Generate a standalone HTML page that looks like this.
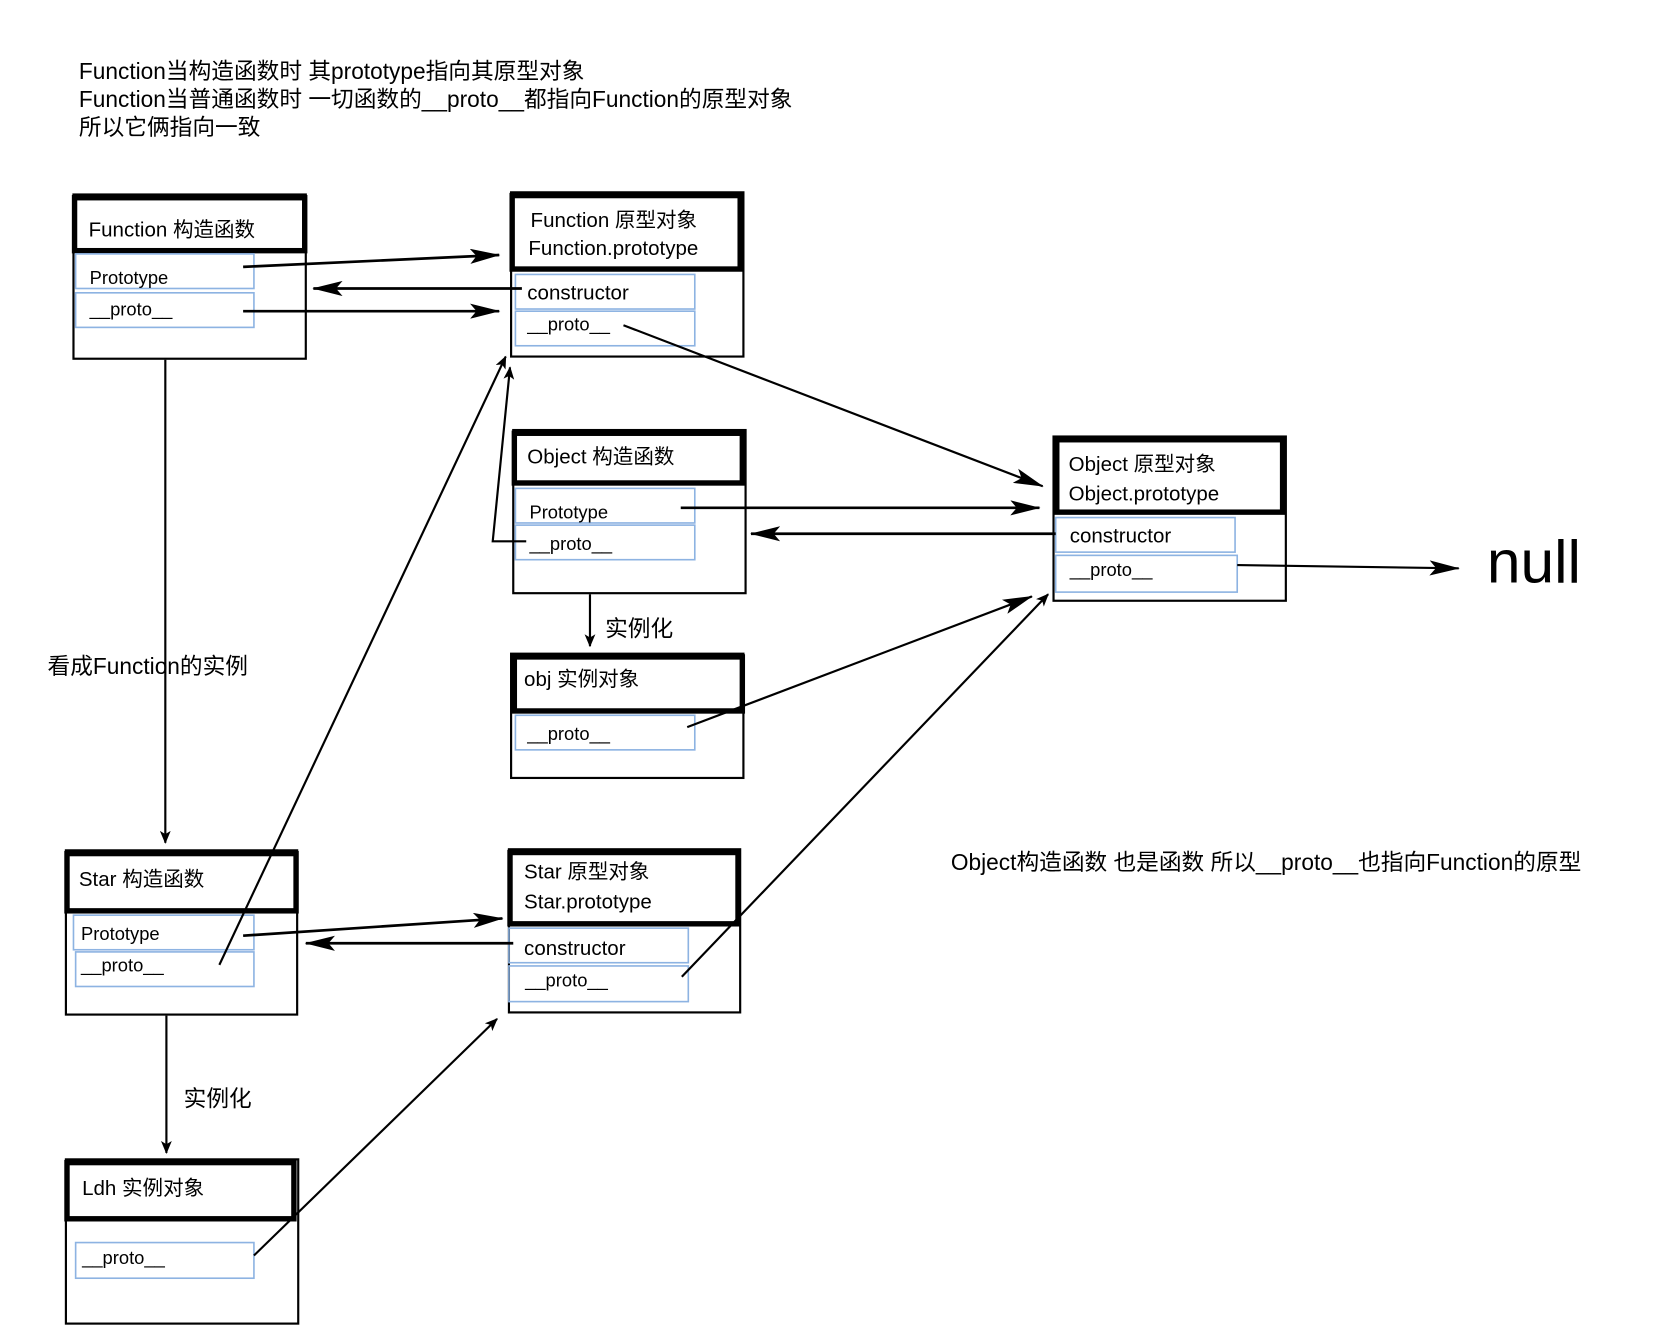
<!DOCTYPE html>
<html><head><meta charset="utf-8"><style>
html,body{margin:0;padding:0;background:#fff;}
svg{display:block;}
text{font-family:"Liberation Sans","Noto Sans CJK SC",sans-serif;fill:#000;}
</style></head><body>
<svg width="1677" height="1329" viewBox="0 0 1552 1230" preserveAspectRatio="none" xmlns="http://www.w3.org/2000/svg">
<defs>
<marker id="a" markerWidth="12" markerHeight="10" refX="11" refY="5" orient="auto" markerUnits="userSpaceOnUse" viewBox="0 0 12 10"><path d="M0,0 L12,5 L0,10 L3,5 z" fill="#000"/></marker>
<marker id="b" markerWidth="28" markerHeight="14" refX="27" refY="7" orient="auto" markerUnits="userSpaceOnUse" viewBox="0 0 28 14"><path d="M0,0 L28,7 L0,14 L6,7 z" fill="#000"/></marker>
</defs>
<rect width="1552" height="1230" fill="#fff"/>
<g font-size="21">
<text x="73" y="73">Function当构造函数时 其prototype指向其原型对象</text>
<text x="73" y="99">Function当普通函数时 一切函数的__proto__都指向Function的原型对象</text>
<text x="73" y="125">所以它俩指向一致</text>
<text x="44" y="624">看成Function的实例</text>
<text x="880" y="805">Object构造函数 也是函数  所以__proto__也指向Function的原型</text>
<text x="560" y="589">实例化</text>
<text x="170" y="1024">实例化</text>
</g>
<text x="1376" y="539" font-size="56">null</text>

<g fill="none" stroke="#000" stroke-width="2">
<rect x="68" y="180" width="215" height="152"/>
<rect x="473" y="178" width="215" height="152"/>
<rect x="475" y="398" width="215" height="151"/>
<rect x="473" y="605" width="215" height="115"/>
<rect x="975" y="404" width="215" height="152"/>
<rect x="61" y="787" width="214" height="152"/>
<rect x="471" y="786" width="214" height="151"/>
<rect x="61" y="1073" width="215" height="152"/>
</g>
<g fill="none" stroke="#000" stroke-width="5">
<rect x="69" y="183" width="213" height="49"/>
<rect x="474" y="181" width="211" height="68"/>
<rect x="476" y="401" width="211" height="46"/>
<rect x="476" y="608" width="211" height="50"/>
<rect x="978" y="407" width="209" height="67"/>
<rect x="62" y="790" width="212" height="53"/>
<rect x="472" y="789" width="211" height="66"/>
<rect x="62" y="1076" width="210" height="52"/>
</g>
<g fill="none" stroke="#8db3e2" stroke-width="1.5">
<rect x="70" y="235" width="165" height="32"/>
<rect x="70" y="271" width="165" height="32"/>
<rect x="477" y="254" width="166" height="32"/>
<rect x="477" y="288" width="166" height="32"/>
<rect x="477" y="452" width="166" height="32"/>
<rect x="477" y="486" width="166" height="32"/>
<rect x="477" y="662" width="166" height="32"/>
<rect x="977" y="479" width="166" height="32"/>
<rect x="977" y="514" width="168" height="34"/>
<rect x="68" y="847" width="167" height="32"/>
<rect x="70" y="881" width="165" height="32"/>
<rect x="471" y="859" width="166" height="32"/>
<rect x="471" y="894" width="166" height="33"/>
<rect x="70" y="1150" width="165" height="33"/>
</g>
<g font-size="19">
<text x="82" y="219">Function 构造函数</text>
<text x="491" y="210">Function 原型对象</text>
<text x="489" y="236">Function.prototype</text>
<text x="488" y="429">Object 构造函数</text>
<text x="485" y="635">obj 实例对象</text>
<text x="989" y="436">Object 原型对象</text>
<text x="989" y="463">Object.prototype</text>
<text x="73" y="820">Star  构造函数</text>
<text x="485" y="813">Star 原型对象</text>
<text x="485" y="841">Star.prototype</text>
<text x="76" y="1106">Ldh  实例对象</text>
<text x="488" y="277">constructor</text>
<text x="990" y="502">constructor</text>
<text x="485" y="884">constructor</text>
</g>
<g font-size="17">
<text x="83" y="263">Prototype</text>
<text x="490" y="480">Prototype</text>
<text x="75" y="870">Prototype</text>
<text x="83" y="292">__proto__</text>
<text x="488" y="306">__proto__</text>
<text x="490" y="509">__proto__</text>
<text x="488" y="685">__proto__</text>
<text x="990" y="533">__proto__</text>
<text x="75" y="899">__proto__</text>
<text x="486" y="913">__proto__</text>
<text x="76" y="1170">__proto__</text>
</g>
<g fill="none" stroke="#000" stroke-width="2.5">
<line x1="225" y1="247" x2="462" y2="236" marker-end="url(#b)"/>
<line x1="483" y1="267" x2="290" y2="267" marker-end="url(#b)"/>
<line x1="225" y1="288" x2="462" y2="288" marker-end="url(#b)"/>
<line x1="630" y1="470" x2="962" y2="470" marker-end="url(#b)"/>
<line x1="977" y1="494" x2="695" y2="494" marker-end="url(#b)"/>
<line x1="225" y1="866" x2="465" y2="850" marker-end="url(#b)"/>
<line x1="475" y1="873" x2="283" y2="873" marker-end="url(#b)"/>
</g>
<g fill="none" stroke="#000" stroke-width="2">
<line x1="577" y1="301" x2="965" y2="450" marker-end="url(#b)"/>
<line x1="153" y1="333" x2="153" y2="780" marker-end="url(#a)"/>
<polyline points="487,501 456,501 472,340" marker-end="url(#a)"/>
<line x1="1145" y1="523" x2="1350" y2="526" marker-end="url(#b)"/>
<line x1="546" y1="550" x2="546" y2="598" marker-end="url(#a)"/>
<line x1="636" y1="673" x2="955" y2="552" marker-end="url(#b)"/>
<line x1="631" y1="904" x2="970" y2="550" marker-end="url(#a)"/>
<line x1="203" y1="893" x2="468" y2="330" marker-end="url(#a)"/>
<line x1="154" y1="940" x2="154" y2="1067" marker-end="url(#a)"/>
<line x1="235" y1="1162" x2="460" y2="943" marker-end="url(#a)"/>
</g>
</svg>
</body></html>
